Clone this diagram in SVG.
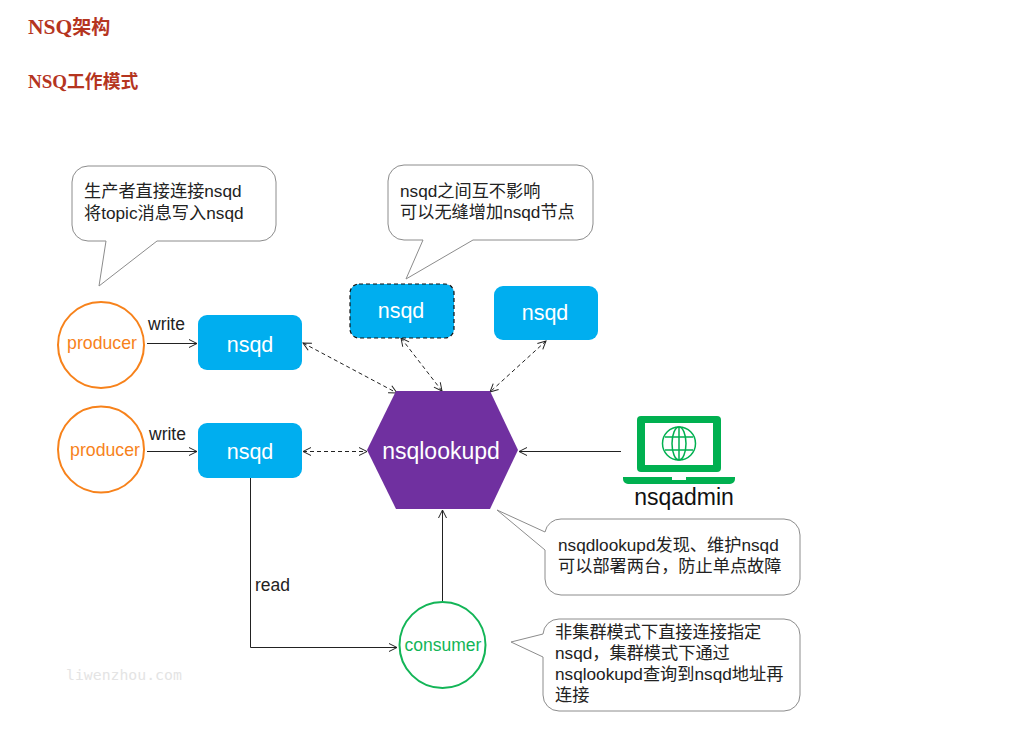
<svg xmlns="http://www.w3.org/2000/svg" width="1034" height="735" viewBox="0 0 1034 735">
<style>
.h{font-family:"Noto Sans CJK SC",sans-serif;font-weight:700;fill:#b5351f}
.hl{font-family:"Liberation Serif",serif;font-weight:700}
.c{font-family:"Liberation Sans","Noto Sans CJK SC",sans-serif;font-size:17.200px;fill:#222}
.b{fill:#fff;stroke:#8c8c8c;stroke-width:1}
.n{fill:#00aeef}
.nt{font-family:"Liberation Sans",sans-serif;font-size:21.500px;fill:#fff;text-anchor:middle}
.l{font-family:"Liberation Sans",sans-serif;font-size:17.500px;fill:#222}
.s{fill:none;stroke:#222;stroke-width:1}
.d{fill:none;stroke:#222;stroke-width:1;stroke-dasharray:4 3}
.p{font-family:"Liberation Sans",sans-serif;font-size:17.700px;fill:#f7821b;text-anchor:middle}
.sans{font-family:"Liberation Sans",sans-serif}
</style>
<defs>
<marker id="a" viewBox="0 0 10 10" refX="9" refY="5" markerWidth="10" markerHeight="10" markerUnits="userSpaceOnUse" orient="auto-start-reverse"><path d="M1 1L9 5L1 9" fill="none" stroke="#222" stroke-width="1"/></marker>
</defs>
<text class="h" x="28" y="34" font-size="19"><tspan class="hl" font-size="21.500">NSQ</tspan>架构</text>
<text class="h" x="28" y="88" font-size="17.800"><tspan class="hl" font-size="19">NSQ</tspan>工作模式</text>
<g id="connectors">
<path class="s" d="M147 343.500H197" marker-end="url(#a)"/>
<path class="s" d="M147 451.500H197" marker-end="url(#a)"/>
<path class="s" d="M250.500 478V647.500H397" marker-end="url(#a)"/>
<path class="s" d="M442.500 601V510" marker-end="url(#a)"/>
<path class="s" d="M621 451.500H519" marker-end="url(#a)"/>
<path class="d" d="M303 343L397 393" marker-start="url(#a)" marker-end="url(#a)"/>
<path class="d" d="M401 338L442 391" marker-start="url(#a)" marker-end="url(#a)"/>
<path class="d" d="M546 341L490 392" marker-start="url(#a)" marker-end="url(#a)"/>
<path class="d" d="M303 451.500H367" marker-start="url(#a)" marker-end="url(#a)"/>
</g>
<g id="callout-producer"><path class="b" d="M88 166H260A16 16 0 0 1 276 182V225A16 16 0 0 1 260 241H157L99 286L106 241H88A16 16 0 0 1 72 225V182A16 16 0 0 1 88 166Z"/>
<text class="c" x="84" y="197">生产者直接连接nsqd</text><text class="c" x="84" y="219">将topic消息写入nsqd</text></g>
<g id="callout-nsqd"><path class="b" d="M404 165H577A16 16 0 0 1 593 181V224A16 16 0 0 1 577 240H473L406 279L423 240H404A16 16 0 0 1 388 224V181A16 16 0 0 1 404 165Z"/>
<text class="c" x="400" y="197">nsqd之间互不影响</text><text class="c" x="400" y="218">可以无缝增加nsqd节点</text></g>
<g id="callout-lookupd"><path class="b" d="M561 519H784A16 16 0 0 1 800 535V579A16 16 0 0 1 784 595H561A16 16 0 0 1 545 579V550L497 510L545 532A16 16 0 0 1 561 519Z"/>
<text class="c" x="558" y="551">nsqdlookupd发现、维护nsqd</text><text class="c" x="558" y="572">可以部署两台，防止单点故障</text></g>
<g id="callout-consumer"><path class="b" d="M559 619H784A16 16 0 0 1 800 635V695A16 16 0 0 1 784 711H559A16 16 0 0 1 543 695V657L511 642L543 634A16 16 0 0 1 559 619Z"/>
<text class="c" x="555" y="638">非集群模式下直接连接指定</text><text class="c" x="555" y="659">nsqd，集群模式下通过</text><text class="c" x="555" y="680">nsqlookupd查询到nsqd地址再</text><text class="c" x="555" y="701">连接</text></g>
<g id="producer1"><circle cx="101" cy="345" r="43" fill="#fff" stroke="#f7821b" stroke-width="2"/><text class="p" x="102" y="349">producer</text></g>
<g id="producer2"><circle cx="101" cy="449.500" r="43" fill="#fff" stroke="#f7821b" stroke-width="2"/><text class="p" x="105" y="456">producer</text></g>
<text class="l" x="148" y="330">write</text>
<text class="l" x="149" y="440">write</text>
<text class="l" x="255" y="591">read</text>
<g id="nsqd1"><rect class="n" x="198" y="315" width="104" height="55" rx="9"/><text class="nt" x="250" y="352">nsqd</text></g>
<g id="nsqd2"><rect class="n" x="198" y="423" width="104" height="55" rx="9"/><text class="nt" x="250" y="459">nsqd</text></g>
<g id="nsqd3"><rect class="n" x="350" y="284" width="104" height="54" rx="9" stroke="#111" stroke-width="1.2" stroke-dasharray="4 3"/><text class="nt" x="401" y="318">nsqd</text></g>
<g id="nsqd4"><rect class="n" x="494" y="286" width="104" height="54" rx="9"/><text class="nt" x="545" y="320">nsqd</text></g>
<g id="nsqlookupd"><polygon points="396,391 490,391 518,450 490,509 396,509 367,450" fill="#7030a0"/><text class="sans" x="441" y="459" font-size="23" fill="#fff" text-anchor="middle">nsqlookupd</text></g>
<g id="consumer"><circle cx="442.500" cy="645" r="43" fill="#fff" stroke="#13b557" stroke-width="2"/><text class="sans" x="443" y="651" font-size="17.500" fill="#13b557" text-anchor="middle">consumer</text></g>
<g id="nsqadmin">
<rect x="637" y="416" width="84" height="56" rx="4" fill="#00b050"/><rect x="645" y="423" width="68" height="42" fill="#fff"/>
<path d="M623 477H672V480H686V477H735V479A5 5 0 0 1 730 484H628A5 5 0 0 1 623 479Z" fill="#00b050"/>
<g fill="none" stroke="#00b050" stroke-width="1.5"><circle cx="679" cy="443.500" r="16.500"/><ellipse cx="679" cy="443.500" rx="7" ry="16.500"/><path d="M679 427V460M665 437H693M665 450H693"/></g>
<text class="sans" x="684" y="505" font-size="23" fill="#111" text-anchor="middle">nsqadmin</text></g>
<text x="66" y="680" font-size="14.800" fill="#e4e4e4" style="font-family:'DejaVu Sans Mono',monospace">liwenzhou.com</text>
</svg>
